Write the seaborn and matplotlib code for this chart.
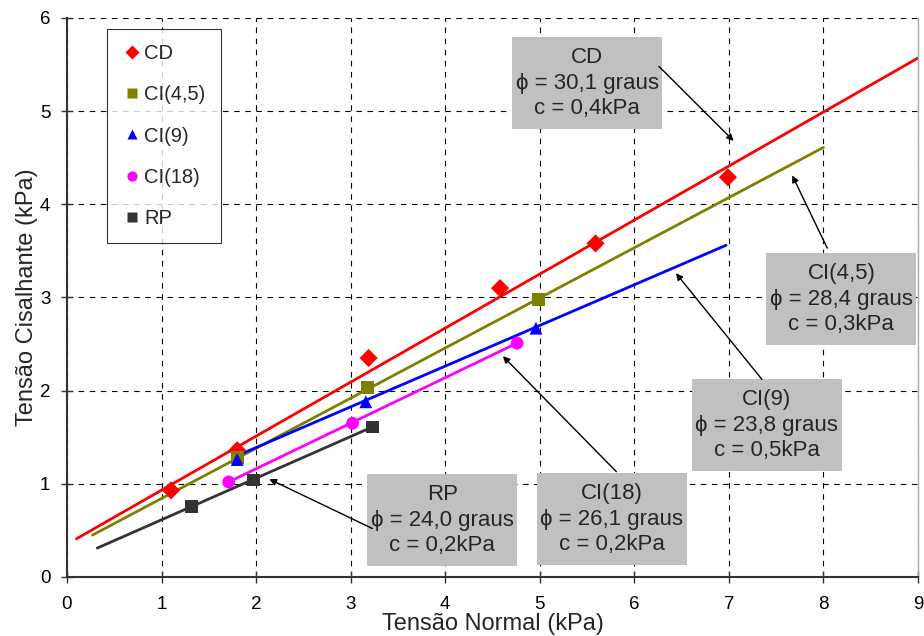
import pandas as pd
import matplotlib
matplotlib.use("Agg")
import matplotlib.pyplot as plt
import seaborn as sns
from matplotlib.patches import Rectangle

# ensaios: pontos medidos (tensão normal x tensão cisalhante, kPa)
series = ["CD", "CI(4,5)", "CI(9)", "CI(18)", "RP"]
cd_x = [1.10, 1.80, 3.19, 4.58, 5.59, 6.99]
cd_y = [0.93, 1.36, 2.35, 3.10, 3.58, 4.29]
ci45_x = [1.80, 3.18, 4.99]
ci45_y = [1.28, 2.03, 2.98]
ci9_x = [1.80, 3.16, 4.96]
ci9_y = [1.26, 1.88, 2.67]
ci18_x = [1.71, 3.02, 4.76]
ci18_y = [1.02, 1.65, 2.51]
rp_x = [1.32, 1.97, 3.23]
rp_y = [0.76, 1.04, 1.61]

# retas de ajuste (pontos inicial e final)
fit_x = {"CD": [0.10, 9.00], "CI(4,5)": [0.27, 8.00], "CI(9)": [1.75, 6.97],
         "CI(18)": [1.71, 4.76], "RP": [0.32, 3.23]}
fit_y = {"CD": [0.41, 5.57], "CI(4,5)": [0.45, 4.61], "CI(9)": [1.28, 3.56],
         "CI(18)": [1.02, 2.51], "RP": [0.31, 1.61]}

# caixas de texto: parâmetros de resistência
box_text = {
    "CD": "CD\n\u03d5 = 30,1 graus\nc = 0,4kPa",
    "CI(4,5)": "CI(4,5)\n\u03d5 = 28,4 graus\nc = 0,3kPa",
    "CI(9)": "CI(9)\n\u03d5 = 23,8 graus\nc = 0,5kPa",
    "CI(18)": "CI(18)\n\u03d5 = 26,1 graus\nc = 0,2kPa",
    "RP": "RP\n\u03d5 = 24,0 graus\nc = 0,2kPa",
}
box_center = {"CD": (5.50, 5.30), "CI(4,5)": (8.19, 2.98), "CI(9)": (7.40, 1.63),
              "CI(18)": (5.76, 0.62), "RP": (3.97, 0.61)}
arrow_tail = {"CD": (6.26, 5.48), "CI(4,5)": (8.04, 3.53), "CI(9)": (7.35, 2.12),
              "CI(18)": (5.81, 1.13), "RP": (3.23, 0.52)}
arrow_head = {"CD": (7.05, 4.68), "CI(4,5)": (7.67, 4.31), "CI(9)": (6.44, 3.26),
              "CI(18)": (4.61, 2.37), "RP": (2.14, 1.05)}

colors = {"CD": "#ff0000", "CI(4,5)": "#808000", "CI(9)": "#0000ff",
          "CI(18)": "#ff00ff", "RP": "#333333"}
markers = {"CD": "D", "CI(4,5)": "s", "CI(9)": "^", "CI(18)": "o", "RP": "s"}

pts = pd.concat([
    pd.DataFrame({"x": cd_x, "y": cd_y, "ensaio": "CD"}),
    pd.DataFrame({"x": ci45_x, "y": ci45_y, "ensaio": "CI(4,5)"}),
    pd.DataFrame({"x": ci9_x, "y": ci9_y, "ensaio": "CI(9)"}),
    pd.DataFrame({"x": ci18_x, "y": ci18_y, "ensaio": "CI(18)"}),
    pd.DataFrame({"x": rp_x, "y": rp_y, "ensaio": "RP"}),
], ignore_index=True)
lines = pd.concat([pd.DataFrame({"x": fit_x[s], "y": fit_y[s], "ensaio": s}) for s in series],
                  ignore_index=True)

sns.set_theme(style="white")
plt.rcParams["font.family"] = ["Liberation Sans", "DejaVu Sans"]

fig = plt.figure(figsize=(9.24, 6.36), dpi=100)
ax = fig.add_axes([0.0725, 0.0928, 0.921, 0.879])

sns.lineplot(data=lines, x="x", y="y", hue="ensaio", hue_order=series, palette=colors,
             linewidth=2, legend=False, ax=ax, zorder=2)
sns.scatterplot(data=pts, x="x", y="y", hue="ensaio", style="ensaio", hue_order=series,
                style_order=series, palette=colors, markers=markers, s=85,
                edgecolor="none", ax=ax, zorder=3)

ax.set_xlim(0, 9)
ax.set_ylim(0, 6)
ax.set_xticks(range(0, 10))
ax.set_yticks(range(0, 7))
ax.grid(True, color="black", linestyle=(0, (5, 5)), linewidth=0.8)
ax.tick_params(direction="inout", length=8, width=1, colors="#333333", labelsize=13.5,
               labelcolor="black", bottom=True, left=True)
ax.tick_params(axis="x", pad=10)
ax.tick_params(axis="y", pad=8)
for side in ["left", "bottom"]:
    ax.spines[side].set_color("#333333")
    ax.spines[side].set_linewidth(1.5)
ax.spines["top"].set_visible(False)
ax.spines["right"].set_color("#aaaaaa")
ax.spines["right"].set_linewidth(1)

ax.set_xlabel("Tensão Normal (kPa)", fontsize=17, labelpad=0)
ax.set_ylabel("Tensão Cisalhante (kPa)", fontsize=17, labelpad=1)

# caixas cinzas com setas
bw, bh = 150 / 94.6, 92 / 93.2
for s in series:
    cx, cy = box_center[s]
    ax.add_patch(Rectangle((cx - bw / 2, cy - bh / 2), bw, bh, facecolor="#c0c0c0",
                           edgecolor="none", zorder=4))
    ax.text(cx, cy, box_text[s], ha="center", va="center", fontsize=16,
            linespacing=1.29, zorder=5)
    ax.annotate("", xy=arrow_head[s], xytext=arrow_tail[s], zorder=5,
                arrowprops=dict(arrowstyle="-|>", color="black", lw=1,
                                mutation_scale=10, shrinkA=0, shrinkB=0))

handles, labels = ax.get_legend_handles_labels()
leg = ax.legend(handles, labels, loc="upper left", bbox_to_anchor=(0.047, 0.98),
                fontsize=14.5, frameon=True, fancybox=False, edgecolor="black",
                labelspacing=1.1, handletextpad=0.1, handlelength=1.0,
                borderpad=0.75, borderaxespad=0, markerscale=0.8)
leg.get_frame().set_linewidth(0.8)
leg.set_zorder(6)

fig.savefig("out.png", dpi=100)
